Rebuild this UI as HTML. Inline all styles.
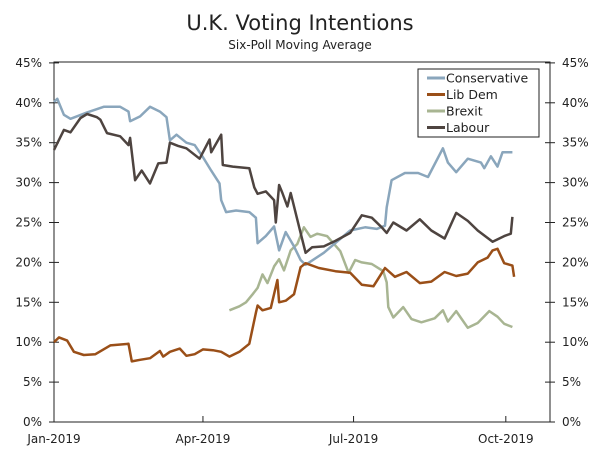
<!DOCTYPE html>
<html><head><meta charset="utf-8"><style>
body{margin:0;background:#fff;}
svg{display:block;font-family:"DejaVu Sans","Liberation Sans",sans-serif;}
</style></head><body>
<svg id="chart" width="600" height="455">
<text x="300" y="30" text-anchor="middle" font-size="21" fill="#222">U.K. Voting Intentions</text>
<text x="300" y="49" text-anchor="middle" font-size="12" fill="#222">Six-Poll Moving Average</text>
<g id="axes"></g>
<g id="series"></g>
<g id="legend"></g>
</svg>
<script>
const yTicks=[0,5,10,15,20,25,30,35,40,45];
const xTickDays=[0,90,181,273];
const xTickLabels=["Jan-2019","Apr-2019","Jul-2019","Oct-2019"];
const seriesNames=["Conservative","Lib Dem","Brexit","Labour"];
const conDays=[0,2,6,10,20,30,40,45,46,52,58,64,68,70,74,80,85,90,95,100,101,104,110,118,122,123,128,133,136,140,145,149,152,163,179,188,195,200,201,204,212,220,226,235,238,243,250,258,260,264,268,271,277];
const conVals=[40.1,40.5,38.5,38,38.8,39.5,39.5,38.9,37.7,38.3,39.5,38.9,38.2,35.3,36,35,34.7,33.2,31.5,29.9,27.8,26.3,26.5,26.3,25.6,22.4,23.3,24.5,21.5,23.8,22,20.3,19.7,21.2,24,24.4,24.2,24.6,26.9,30.3,31.2,31.2,30.7,34.3,32.5,31.3,33,32.5,31.8,33.3,32,33.8,33.8];
const ldDays=[0,3,8,12,18,25,34,45,47,52,58,64,66,70,76,80,85,90,96,101,106,112,118,122,123,126,131,135,136,140,145,149,152,160,170,179,186,193,200,206,213,221,228,236,243,250,256,262,265,268,272,277,278];
const ldVals=[10,10.6,10.2,8.8,8.4,8.5,9.6,9.8,7.6,7.8,8,8.9,8.2,8.8,9.2,8.3,8.5,9.1,9,8.8,8.2,8.8,9.8,13.7,14.6,14,14.3,17.8,15,15.2,16,19.4,19.9,19.3,18.9,18.7,17.2,17,19.3,18.2,18.8,17.4,17.6,18.8,18.3,18.6,20,20.6,21.5,21.7,19.9,19.6,18.2];
const brDays=[106,112,116,120,123,126,129,133,136,139,143,147,151,155,159,165,173,178,182,186,192,199,201,202,205,211,216,222,230,235,238,243,250,256,263,268,272,277];
const brVals=[14,14.5,15,16,16.8,18.5,17.4,19.5,20.4,19,21.5,22.3,24.4,23.2,23.6,23.3,21.4,18.7,20.3,20,19.8,18.9,17.5,14.4,13.1,14.4,12.9,12.5,13,14,12.6,13.9,11.8,12.4,13.9,13.2,12.3,11.9];
const labDays=[0,6,10,16,20,26,28,32,40,45,46,49,53,58,63,68,70,75,80,88,94,95,101,102,108,118,121,123,128,133,134,136,138,141,143,149,152,156,163,170,179,186,192,198,201,205,213,221,228,236,243,250,256,265,272,276,277];
const labVals=[34.1,36.6,36.3,38.1,38.6,38.2,37.9,36.2,35.8,34.7,35.6,30.3,31.5,29.9,32.4,32.5,35,34.6,34.3,33,35.4,33.8,36,32.2,32,31.8,29.4,28.6,28.9,27.8,25,29.7,28.7,27,28.7,23.7,21.2,21.9,22,22.7,23.7,25.9,25.6,24.4,23.7,25,24,25.4,24,23,26.2,25.2,24,22.6,23.3,23.6,25.7];
const colors=["#8aa6bc","#9a4f18","#a8b592","#4e4440"];
const X0=54,PX_PER_DAY=1.655,Y0=422,PX_PER_PCT=7.98,RIGHT=550,TOP=62;
const xs=d=>X0+d*PX_PER_DAY;
const ys=v=>Y0-v*PX_PER_PCT;
const NS="http://www.w3.org/2000/svg";
function mk(tag,attrs,parent){const e=document.createElementNS(NS,tag);for(const k in attrs)e.setAttribute(k,attrs[k]);parent.appendChild(e);return e;}
const axes=document.getElementById('axes');
const frame=mk('rect',{x:X0,y:TOP,width:RIGHT-X0,height:Y0-TOP,fill:'none',stroke:'#222','stroke-width':1},axes);


yTicks.forEach(v=>{
  const y=ys(v);
  const t1=mk('line',{x1:X0-5,x2:X0+5,y1:y,y2:y,stroke:'#222'},axes);
  
  
  const t2=mk('line',{x1:RIGHT-5,x2:RIGHT+5,y1:y,y2:y,stroke:'#222'},axes);
  
  
  const l=mk('text',{x:X0-12,y:y+4,'text-anchor':'end','font-size':12,fill:'#222'},axes);l.textContent=v+'%';
  
  
  const r=mk('text',{x:RIGHT+12,y:y+4,'text-anchor':'start','font-size':12,fill:'#222'},axes);r.textContent=v+'%';
  
  
});
xTickDays.forEach((d,i)=>{
  const x=xs(d);
  const t=mk('line',{x1:x,x2:x,y1:Y0,y2:Y0-6,stroke:'#222'},axes);
  
  
  const l=mk('text',{x:x,y:Y0+21,'text-anchor':'middle','font-size':12,fill:'#222'},axes);l.textContent=xTickLabels[i];
  
  
});
const sg=document.getElementById('series');
const all=[[conDays,conVals],[ldDays,ldVals],[brDays,brVals],[labDays,labVals]];
const order=[2,0,1,3];
order.forEach(i=>{
  const [d,v]=all[i];
  const pts=d.map((dd,j)=>xs(dd).toFixed(1)+','+ys(v[j]).toFixed(1)).join(' ');
  const p=mk('polyline',{points:pts,fill:'none',stroke:colors[i],'stroke-width':2.5,'stroke-linejoin':'round'},sg);
  
  
});
const lg=document.getElementById('legend');
const box=mk('rect',{x:418,y:69,width:121,height:68,fill:'#fff',stroke:'#222','stroke-width':1},lg);


seriesNames.forEach((n,i)=>{
  const y=78+i*16.5;
  const ln=mk('line',{x1:427,x2:445,y1:y,y2:y,stroke:colors[i],'stroke-width':3},lg);
  
  
  const t=mk('text',{x:446,y:y+4.5,'font-size':12.5,fill:'#222'},lg);t.textContent=n;
  
  
});
</script>
</body></html>
